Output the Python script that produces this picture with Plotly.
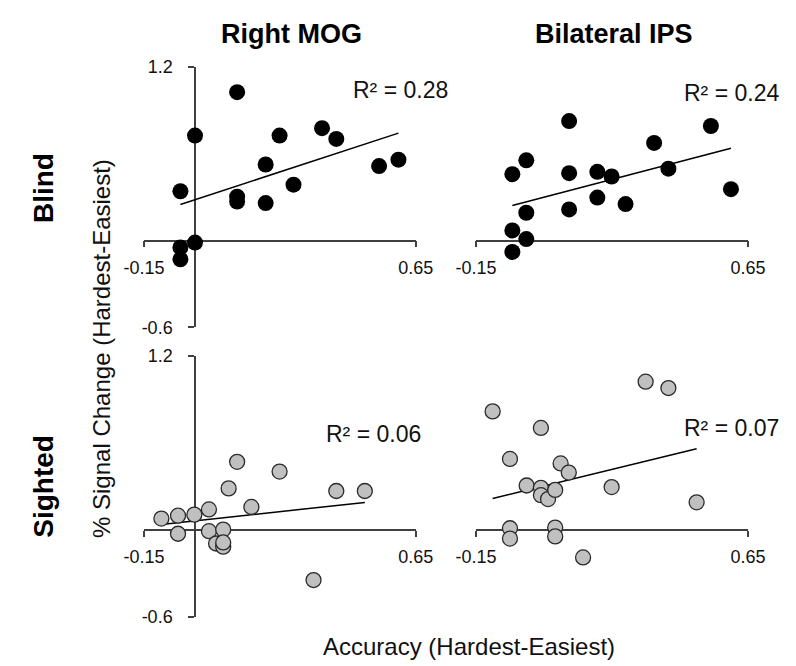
import numpy as np
import plotly.graph_objects as go

# ---------------- data ----------------
blind_mog_x = [0.124, 0.000, -0.043, 0.000, -0.043, -0.043, 0.124, 0.124, 0.208, 0.208,
               0.249, 0.290, 0.374, 0.416, 0.542, 0.599]
blind_mog_y = [1.027, 0.727, 0.342, -0.013, -0.047, -0.129, 0.304, 0.271, 0.527, 0.260,
               0.727, 0.387, 0.778, 0.704, 0.516, 0.560]

blind_ips_x = [0.124, 0.541, 0.374, -0.002, -0.043, 0.124, 0.207, 0.249, 0.416, 0.600,
               0.207, 0.290, 0.124, -0.002, -0.043, -0.002, -0.043]
blind_ips_y = [0.827, 0.793, 0.676, 0.556, 0.460, 0.467, 0.476, 0.444, 0.498, 0.356,
               0.298, 0.253, 0.216, 0.193, 0.071, 0.011, -0.078]

sighted_mog_x = [-0.099, -0.050, -0.050, -0.002, 0.041, 0.041, 0.083, 0.062, 0.083, 0.083,
                 0.099, 0.124, 0.166, 0.249, 0.416, 0.500, 0.349]
sighted_mog_y = [0.078, 0.098, -0.027, 0.105, 0.141, -0.009, 0.002, -0.094, -0.116, -0.087,
                 0.286, 0.469, 0.158, 0.402, 0.268, 0.268, -0.346]

sighted_ips_x = [0.349, 0.416, -0.101, 0.041, -0.050, 0.099, 0.123, -0.001, 0.041, 0.041,
                 0.062, 0.083, 0.249, 0.499, -0.050, -0.050, 0.083, 0.083, 0.165]
sighted_ips_y = [1.022, 0.978, 0.817, 0.703, 0.489, 0.458, 0.395, 0.306, 0.290, 0.239,
                 0.212, 0.275, 0.295, 0.190, 0.011, -0.060, 0.016, -0.045, -0.190]

r2_labels = ["R² = 0.28", "R² = 0.24", "R² = 0.06", "R² = 0.07"]
col_titles = ["Right MOG", "Bilateral IPS"]
row_titles = ["Blind", "Sighted"]
x_ticks = [-0.15, 0.65]
x_ticktext = ["-0.15", "0.65"]
y_ticks = [-0.6, 1.2]
y_ticktext = ["-0.6", "1.2"]
x_range = [-0.15, 0.65]
y_range = [-0.6, 1.2]

# ---------------- layout geometry ----------------
W, H = 796, 666
FONT = "Liberation Sans, Arial, sans-serif"
AXC = "#404040"

xdom = {"L": [121 / W, 406.7 / W], "R": [470 / W, 756 / W]}
ydom = {"T": [1 - 319 / H, 1 - 50.7 / H], "B": [1 - 617.4 / H, 1 - 348.3 / H]}


def frac(v, rng, dom):
    return dom[0] + (v - rng[0]) / (rng[1] - rng[0]) * (dom[1] - dom[0])


panels = [
    # (xs, ys, col, row, fill, r2 label pos in data coords)
    (blind_mog_x, blind_mog_y, "L", "T", "black", (0.606, 1.04)),
    (blind_ips_x, blind_ips_y, "R", "T", "black", (0.602, 1.018)),
    (sighted_mog_x, sighted_mog_y, "L", "B", "#c0c0c0", (0.526, 0.66)),
    (sighted_ips_x, sighted_ips_y, "R", "B", "#c0c0c0", (0.602, 0.704)),
]

fig = go.Figure()
annotations = []
layout_axes = {}

for i, (xs, ys, col, row, fill, r2pos) in enumerate(panels):
    n = i + 1
    xa = "x" if n == 1 else f"x{n}"
    ya = "y" if n == 1 else f"y{n}"
    xs = np.array(xs)
    ys = np.array(ys)

    # trend line (least squares) over data range
    slope, icpt = np.polyfit(xs, ys, 1)
    lx = np.array([xs.min(), xs.max()])
    fig.add_trace(go.Scatter(x=lx, y=slope * lx + icpt, mode="lines",
                             line=dict(color="black", width=1.5),
                             xaxis=xa, yaxis=ya, hoverinfo="skip",
                             showlegend=False, cliponaxis=False))

    if fill == "black":
        marker = dict(size=16, color="black", line=dict(width=0))
    else:
        marker = dict(size=15, color=fill, line=dict(color="#2a2a2a", width=1.3))
    fig.add_trace(go.Scatter(x=xs, y=ys, mode="markers", marker=marker,
                             xaxis=xa, yaxis=ya, showlegend=False,
                             cliponaxis=False))

    xpos = frac(0, y_range, ydom[row])
    ypos = frac(0, x_range, xdom[col])

    xkey = "xaxis" if n == 1 else f"xaxis{n}"
    ykey = "yaxis" if n == 1 else f"yaxis{n}"
    layout_axes[xkey] = dict(
        domain=xdom[col], range=x_range, anchor="free", position=xpos,
        showline=True, linecolor=AXC, linewidth=1.5, mirror=False,
        ticks="outside", ticklen=6, tickwidth=1.5, tickcolor=AXC,
        tickvals=x_ticks, ticktext=x_ticktext, ticklabelstandoff=5,
        tickfont=dict(size=18, color="#111", family=FONT),
        showgrid=False, zeroline=False, layer="below traces", fixedrange=True,
    )
    if col == "L":
        layout_axes[ykey] = dict(
            domain=ydom[row], range=y_range, anchor="free", position=ypos,
            showline=True, linecolor=AXC, linewidth=1.5,
            ticks="outside", ticklen=6, tickwidth=1.5, tickcolor=AXC,
            tickvals=y_ticks, ticktext=y_ticktext, ticklabelstandoff=12,
            tickfont=dict(size=18, color="#111", family=FONT),
            showgrid=False, zeroline=False, layer="below traces", fixedrange=True,
        )
    else:
        layout_axes[ykey] = dict(
            domain=ydom[row], range=y_range, anchor="free", position=ypos,
            showline=False, ticks="", showticklabels=False,
            showgrid=False, zeroline=False, fixedrange=True,
        )

    annotations.append(dict(text=r2_labels[i], x=r2pos[0], y=r2pos[1],
                            xref=xa, yref=ya, showarrow=False,
                            xanchor="center", yanchor="middle",
                            font=dict(size=23, color="#111", family=FONT)))

# column titles
for txt, cx in zip(col_titles, [276.5, 615]):
    annotations.append(dict(text=f"<b>{txt}</b>", x=cx / W, y=1 - 17 / H,
                            xref="paper", yref="paper", showarrow=False,
                            xanchor="center", yanchor="middle",
                            font=dict(size=27, color="black", family=FONT)))
# row titles
for txt, cy in zip(row_titles, [175, 483]):
    annotations.append(dict(text=f"<b>{txt}</b>", x=15 / W, y=1 - cy / H,
                            xref="paper", yref="paper", showarrow=False,
                            textangle=-90, xanchor="center", yanchor="middle",
                            font=dict(size=28, color="black", family=FONT)))
# axis titles
annotations.append(dict(text="% Signal Change (Hardest-Easiest)", x=77 / W, y=1 - 341 / H,
                        xref="paper", yref="paper", showarrow=False, textangle=-90,
                        xanchor="center", yanchor="middle",
                        font=dict(size=24, color="#111", family=FONT)))
annotations.append(dict(text="Accuracy (Hardest-Easiest)", x=463 / W, y=1 - 648 / H,
                        xref="paper", yref="paper", showarrow=False,
                        xanchor="center", yanchor="middle",
                        font=dict(size=24, color="#111", family=FONT)))

fig.update_layout(
    width=W, height=H, autosize=False,
    margin=dict(l=0, r=0, t=0, b=0),
    paper_bgcolor="white", plot_bgcolor="white",
    showlegend=False, annotations=annotations,
    **layout_axes,
)

fig.write_html("out.html")
